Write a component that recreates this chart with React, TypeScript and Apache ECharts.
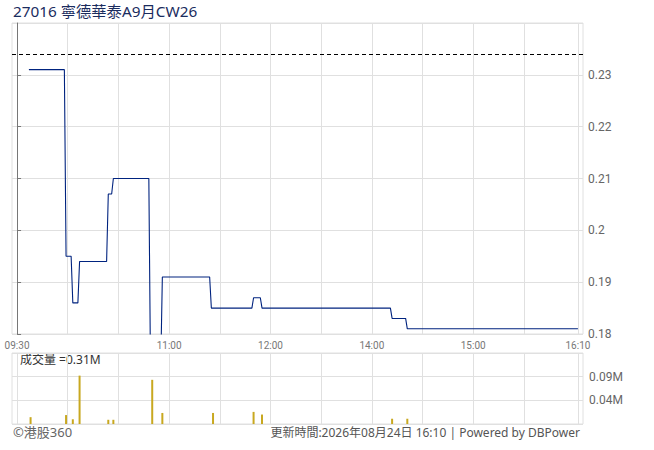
import React, { useEffect, useRef } from "react";
import * as echarts from "echarts";

// ---------- data ----------
const TITLE = "27016 寧德華泰A9月CW26";
const PREV_CLOSE = 0.234;

// price line: minute-by-minute closes where the level changes
const PRICE_TIMES = [
  "09:37", "09:58", "09:59", "10:02", "10:03", "10:06", "10:07", "10:23",
  "10:24", "10:26", "10:27", "10:48", "10:49", "10:55", "10:56", "11:24",
  "11:25", "11:49", "11:50", "11:54", "11:55", "14:11", "14:12", "14:20",
  "14:21", "16:10",
];
const PRICE_VALUES = [
  0.231, 0.231, 0.195, 0.195, 0.186, 0.186, 0.194, 0.194,
  0.207, 0.207, 0.21, 0.21, 0.173, 0.173, 0.191, 0.191,
  0.185, 0.185, 0.187, 0.187, 0.185, 0.185, 0.183, 0.183,
  0.181, 0.181,
];

// volume bars (shares)
const VOL_TIMES = [
  "09:38", "09:59", "10:03", "10:07", "10:24", "10:27", "10:50",
  "10:56", "11:26", "11:50", "11:55", "14:12", "14:21",
];
const VOL_VALUES = [
  13000, 17000, 9000, 92000, 8000, 8000, 84000,
  21000, 21000, 23000, 18000, 10000, 10000,
];
const TOTAL_VOLUME_TEXT = "成交量 =0.31M";

const GRID_TIMES = [
  "09:30", "10:00", "10:30", "11:00", "11:30", "12:00",
  "13:30", "14:00", "14:30", "15:00", "15:30", "16:10",
];
const LABEL_TIMES = ["09:30", "11:00", "12:00", "14:00", "15:00", "16:10"];

const PRICE_MIN = 0.18;
const PRICE_MAX = 0.24;
const PRICE_STEP = 0.01;
const VOL_MAX = 135000;
const VOL_STEP = 45000;

const FOOTER_LEFT = "©港股360";
const FOOTER_RIGHT = "更新時間:2026年08月24日 16:10 | Powered by DBPower";

// trading-minute index: morning 09:30-12:00, afternoon 13:00-16:00,
// closing auction compressed into a short slot
const AUCTION_SLOT = 2;
function toMinute(t: string): number {
  const [h, m] = t.split(":").map(Number);
  const mins = h * 60 + m;
  if (mins <= 720) return mins - 570;
  if (mins <= 960) return 150 + (mins - 780);
  return 330 + AUCTION_SLOT;
}

const CJK = "'Noto Sans', 'Noto Sans CJK TC', sans-serif";
const NUM = "Roboto, 'Noto Sans', sans-serif";

export default function App() {
  const ref = useRef<HTMLDivElement>(null);

  useEffect(() => {
    document.body.style.margin = "0";
    if (!ref.current) return;
    const chart = echarts.init(ref.current, undefined, { renderer: "svg" });

    const gridMinutes = GRID_TIMES.map(toMinute);
    const labelMinutes = LABEL_TIMES.map(toMinute);
    const priceData = PRICE_TIMES.map((t, i) => [toMinute(t), PRICE_VALUES[i]]);
    const volData = VOL_TIMES.map((t, i) => [toMinute(t), VOL_VALUES[i]]);

    const xCommon = {
      type: "value" as const,
      min: -3,
      max: 335,
      axisLine: { show: false },
      axisTick: { show: false, customValues: gridMinutes },
      splitLine: { show: true, lineStyle: { color: "#e0e0e0", width: 1 } },
    };

    chart.setOption({
      animation: false,
      title: {
        text: TITLE,
        left: 13,
        top: 3,
        padding: 0,
        textStyle: { fontSize: 15.3, fontWeight: "normal", color: "#1a2c5e", fontFamily: CJK },
      },
      grid: [
        { left: 12, right: 71, top: 23, height: 311, show: true, borderColor: "#e0e0e0", borderWidth: 1, containLabel: false },
        { left: 12, right: 71, top: 353, height: 71, show: true, borderColor: "#e0e0e0", borderWidth: 1, containLabel: false },
      ],
      xAxis: [
        {
          ...xCommon,
          gridIndex: 0,
          axisLabel: {
            show: true,
            customValues: labelMinutes,
            margin: 6,
            fontSize: 10,
            color: "#777",
            fontFamily: NUM,
            formatter: (v: number) => {
              const idx = labelMinutes.indexOf(v);
              return idx >= 0 ? LABEL_TIMES[idx] : "";
            },
          },
        },
        {
          ...xCommon,
          gridIndex: 1,
          axisLabel: { show: false },
        },
      ],
      yAxis: [
        {
          type: "value",
          gridIndex: 0,
          position: "right",
          min: PRICE_MIN,
          max: PRICE_MAX,
          interval: PRICE_STEP,
          axisLine: { show: true, lineStyle: { color: "#777" } },
          axisTick: { show: true, length: 4, lineStyle: { color: "#777" } },
          axisLabel: { margin: 5, fontSize: 12, color: "#666", fontFamily: NUM, showMaxLabel: false },
          splitLine: { show: true, lineStyle: { color: "#e0e0e0" } },
        },
        {
          type: "value",
          gridIndex: 1,
          position: "right",
          min: 0,
          max: VOL_MAX,
          interval: VOL_STEP,
          axisLine: { show: false },
          axisTick: { show: false },
          axisLabel: {
            margin: 6,
            fontSize: 12,
            color: "#666",
            fontFamily: NUM,
            showMinLabel: false,
            showMaxLabel: false,
            formatter: (v: number) => (Math.floor(v / 1e4) / 100).toFixed(2) + "M",
          },
          splitLine: { show: true, lineStyle: { color: "#e0e0e0" } },
        },
      ],
      series: [
        {
          type: "line",
          xAxisIndex: 0,
          yAxisIndex: 0,
          data: priceData,
          showSymbol: false,
          clip: true,
          lineStyle: { color: "#00237f", width: 1.1 },
          z: 3,
          markLine: {
            silent: true,
            symbol: "none",
            precision: 3,
            label: { show: false },
            lineStyle: { color: "#000", width: 1, type: [4, 3] },
            data: [{ yAxis: PREV_CLOSE }],
          },
        },
        {
          type: "bar",
          xAxisIndex: 1,
          yAxisIndex: 1,
          data: volData,
          barWidth: 2,
          itemStyle: { color: "#c8a820" },
        },
      ],
      graphic: [
        {
          type: "text",
          left: 20,
          top: 353,
          style: { text: TOTAL_VOLUME_TEXT, fontSize: 12, fill: "#333", fontFamily: CJK },
        },
        {
          type: "text",
          left: 13,
          top: 425,
          style: { text: FOOTER_LEFT, fontSize: 13, fill: "#666", fontFamily: CJK },
        },
        {
          type: "text",
          right: 74,
          top: 426,
          style: { text: FOOTER_RIGHT, fontSize: 12, fill: "#555", fontFamily: CJK },
        },
      ],
    });

    return () => chart.dispose();
  }, []);

  return <div ref={ref} style={{ width: 654, height: 450 }} />;
}
